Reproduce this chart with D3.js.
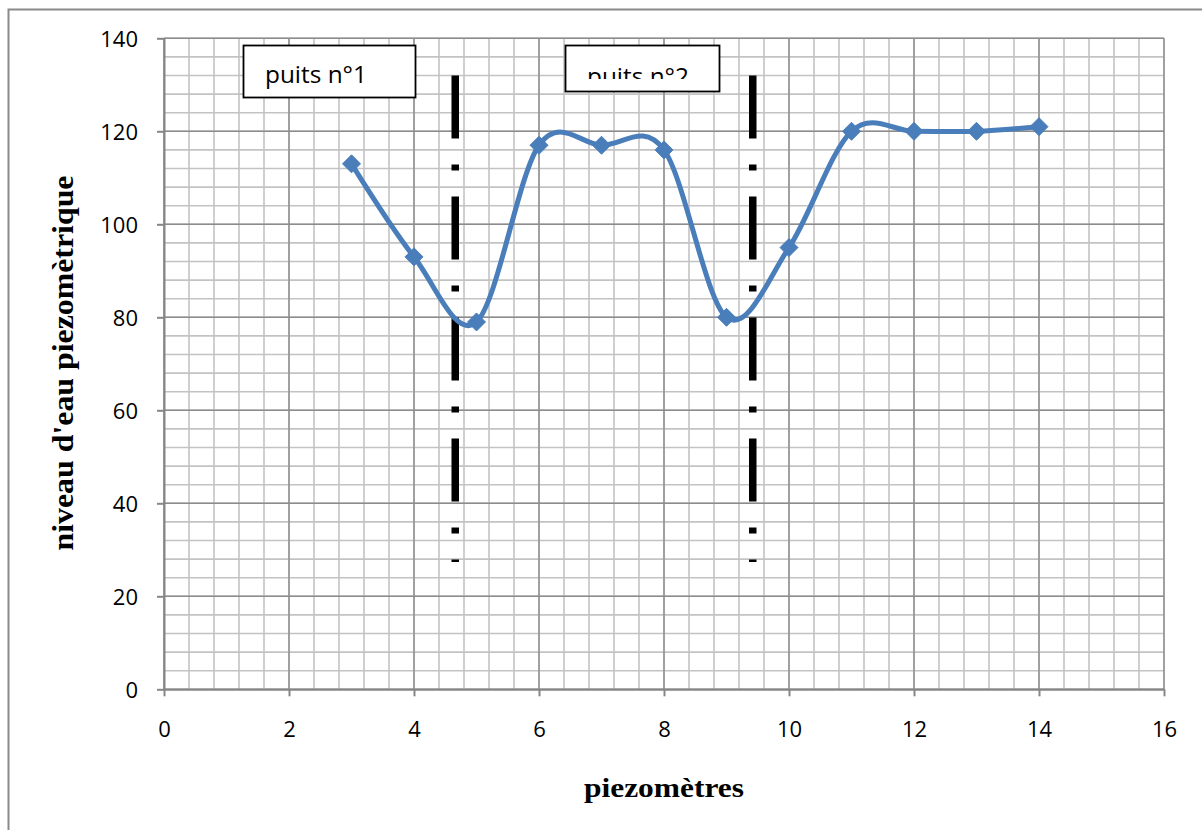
<!DOCTYPE html>
<html><head><meta charset="utf-8">
<script src="https://cdn.jsdelivr.net/npm/d3@7"></script>
<style>body{margin:0;background:#fff}svg{display:block}</style>
</head><body>
<svg id="c" width="1202" height="830"></svg>
<script>
const piezometres = [3,4,5,6,7,8,9,10,11,12,13,14];
const niveaux = [113,93,79,117,117,116,80,95,120,120,120,121];
const xTicks = [0,2,4,6,8,10,12,14,16];
const yTicks = [0,20,40,60,80,100,120,140];
const puitsLines = [{x:4.66, y0:27.4, y1:132}, {x:9.42, y0:27.4, y1:132}];
const puitsLabels = ["puits n°1","puits n°2"];
const xTitle = "piezomètres";
const yTitle = "niveau d'eau piezomètrique";

const svg = d3.select("#c");
const x = d3.scaleLinear().domain([0,16]).range([164,1164]);
const y = d3.scaleLinear().domain([0,140]).range([689.3,38.3]);

// outer frame
svg.append("rect").attr("x",8.5).attr("y",9.5).attr("width",1210).attr("height",840)
  .attr("fill","none").attr("stroke","#8a8a8a").attr("stroke-width",2);

const g = svg.append("g");
// minor grid
const xMinor = d3.range(0,16.001,0.4);
const yMinor = d3.range(0,140.001,4);
g.selectAll(".xm").data(xMinor).join("line")
  .attr("x1",d=>x(d)).attr("x2",d=>x(d)).attr("y1",y(0)).attr("y2",y(140))
  .attr("stroke","#c3c3c3").attr("stroke-width",1.6);
g.selectAll(".ym").data(yMinor).join("line")
  .attr("y1",d=>y(d)).attr("y2",d=>y(d)).attr("x1",x(0)).attr("x2",x(16))
  .attr("stroke","#c3c3c3").attr("stroke-width",1.6);
// major grid
g.selectAll(".xM").data(xTicks).join("line")
  .attr("x1",d=>x(d)).attr("x2",d=>x(d)).attr("y1",y(0)).attr("y2",y(140))
  .attr("stroke","#8c8c8c").attr("stroke-width",1.4);
g.selectAll(".yM").data(yTicks).join("line")
  .attr("y1",d=>y(d)).attr("y2",d=>y(d)).attr("x1",x(0)).attr("x2",x(16))
  .attr("stroke","#8c8c8c").attr("stroke-width",1.4);

// axes
const font = "'Open Sans', sans-serif";
const yAxis = d3.axisLeft(y).tickValues(yTicks).tickSize(7).tickPadding(19).tickSizeOuter(0);
const ya = svg.append("g").attr("transform",`translate(${x(0)},0)`).call(yAxis);
ya.select(".domain").attr("stroke","#868686").attr("stroke-width",2);
ya.selectAll(".tick line").attr("stroke","#868686").attr("stroke-width",2);
ya.selectAll(".tick text").attr("font-family",font).attr("font-size",22).attr("fill","#000").attr("dy","0.36em");

const xAxis = d3.axisBottom(x).tickValues(xTicks).tickSize(7).tickPadding(25).tickSizeOuter(0);
const xa = svg.append("g").attr("transform",`translate(0,${y(0)})`).call(xAxis);
xa.select(".domain").attr("stroke","#868686").attr("stroke-width",2);
xa.selectAll(".tick line").attr("stroke","#868686").attr("stroke-width",2);
xa.selectAll(".tick text").attr("font-family",font).attr("font-size",22).attr("fill","#000");

// vertical dash-dot lines
svg.selectAll(".pl").data(puitsLines).join("line")
  .attr("x1",d=>x(d.x)).attr("x2",d=>x(d.x)).attr("y1",d=>y(d.y1)).attr("y2",d=>y(d.y0))
  .attr("stroke","#000").attr("stroke-width",7.5).attr("stroke-dasharray","63 26 6 26");

// series
const line = d3.line().x((d,i)=>x(piezometres[i])).y(d=>y(d)).curve(d3.curveCardinal.tension(0));
svg.append("path").datum(niveaux).attr("d",line).attr("fill","none")
  .attr("stroke","#4a7ebb").attr("stroke-width",5);
svg.selectAll(".mk").data(niveaux).join("path")
  .attr("d","M0,-9L9,0L0,9L-9,0Z")
  .attr("transform",(d,i)=>`translate(${x(piezometres[i])},${y(d)})`)
  .attr("fill","#4a7ebb").attr("stroke","#4a7ebb").attr("stroke-width",1);

// text boxes
const boxes = [{x:243.5,y:45.5,w:172,h:52,tx:265,ty:83,clip:null},
               {x:565.5,y:45.5,w:154,h:46,tx:587,ty:85,clip:79}];
const defs = svg.append("defs");
boxes.forEach((b,i)=>{
  svg.append("rect").attr("x",b.x).attr("y",b.y).attr("width",b.w).attr("height",b.h)
    .attr("fill","#fff").attr("stroke","#000").attr("stroke-width",1.8);
  const t = svg.append("text").attr("x",b.tx).attr("y",b.ty).attr("font-family",font)
    .attr("font-size",24).attr("fill","#000").attr("textLength",102).attr("lengthAdjust","spacingAndGlyphs").text(puitsLabels[i]);
  if (b.clip){
    defs.append("clipPath").attr("id","cl"+i).append("rect")
      .attr("x",b.x).attr("y",b.y).attr("width",b.w).attr("height",b.clip-b.y);
    t.attr("clip-path",`url(#cl${i})`);
  }
});

// titles
svg.append("text").attr("x",664).attr("y",797).attr("text-anchor","middle")
  .attr("font-family","'Liberation Serif', serif").attr("font-weight","bold")
  .attr("font-size",28).attr("textLength",160).attr("lengthAdjust","spacingAndGlyphs").text(xTitle);
svg.append("text").attr("transform","translate(73,363) rotate(-90)").attr("text-anchor","middle")
  .attr("font-family","'Liberation Serif', serif").attr("font-weight","bold")
  .attr("font-size",29).attr("textLength",375).attr("lengthAdjust","spacingAndGlyphs").text(yTitle);
</script>
</body></html>
